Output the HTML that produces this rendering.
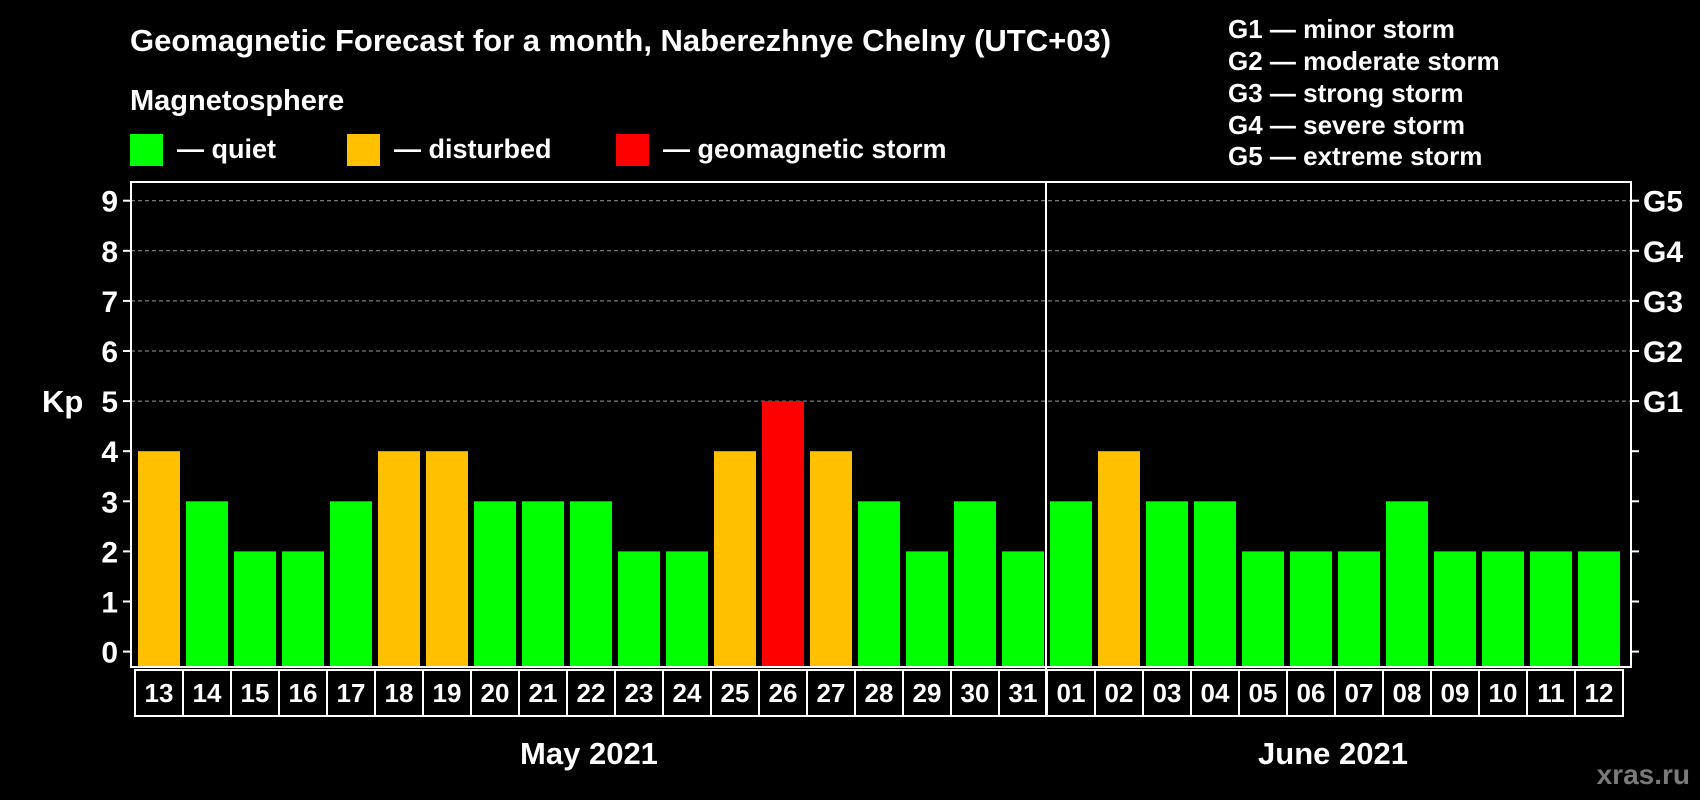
<!DOCTYPE html>
<html><head><meta charset="utf-8"><style>
html,body{margin:0;padding:0;background:#000;width:1700px;height:800px;overflow:hidden}
svg text{font-family:"Liberation Sans",Arial,sans-serif;font-weight:bold;fill:#fff}
</style></head><body>
<svg id="chart" width="1700" height="800" xmlns="http://www.w3.org/2000/svg">
<rect width="1700" height="800" fill="#000"/>
<text x="130" y="51" font-size="31">Geomagnetic Forecast for a month, Naberezhnye Chelny (UTC+03)</text>
<text x="130" y="110" font-size="29">Magnetosphere</text>
<g><rect x="130" y="134" width="33" height="32" fill="#00ff00"/><text x="177" y="158" font-size="27">— quiet</text></g>
<g><rect x="347" y="134" width="33" height="32" fill="#ffc000"/><text x="394" y="158" font-size="27">— disturbed</text></g>
<g><rect x="616" y="134" width="33" height="32" fill="#ff0000"/><text x="663" y="158" font-size="27">— geomagnetic storm</text></g>
<g font-size="26">
<text x="1228" y="38">G1 — minor storm</text>
<text x="1228" y="70">G2 — moderate storm</text>
<text x="1228" y="102">G3 — strong storm</text>
<text x="1228" y="134">G4 — severe storm</text>
<text x="1228" y="165">G5 — extreme storm</text>
</g>
<text x="42" y="412" font-size="31">Kp</text>
<g id="grid"></g><g id="bars"></g><g id="axes"></g>
<text x="589" y="764" font-size="31" text-anchor="middle">May 2021</text>
<text x="1333" y="764" font-size="31" text-anchor="middle">June 2021</text>
<text x="1690" y="784" font-size="28" text-anchor="end" style="fill:#7a7a7a">xras.ru</text>
</svg>
<script>
const days = ["13","14","15","16","17","18","19","20","21","22","23","24","25","26","27","28","29","30","31","01","02","03","04","05","06","07","08","09","10","11","12"];
const kp = [4,3,2,2,3,4,4,3,3,3,2,2,4,5,4,3,2,3,2,3,4,3,3,2,2,2,3,2,2,2,2];
const yTicks = [0,1,2,3,4,5,6,7,8,9];
const gLabels = ["","","","","","G1","G2","G3","G4","G5"];
const NS="http://www.w3.org/2000/svg";
const L=131,R=1631,T=182,B=667,Y0=651.6,UNIT=50.1,X0=135,STEP=48,BW=42;
const y=v=>Y0-v*UNIT, x=i=>X0+i*STEP;
function mk(t,a,p){const e=document.createElementNS(NS,t);for(const k in a)e.setAttribute(k,a[k]);p.appendChild(e);return e;}
const grid=document.getElementById('grid'),bars=document.getElementById('bars'),axes=document.getElementById('axes');
yTicks.forEach((v,i)=>{
  if(v>=5){const g=mk('line',{x1:L,x2:R,y1:y(v),y2:y(v),stroke:'#999','stroke-dasharray':'4,3','stroke-width':1},grid);
  
  }
  mk('line',{x1:L-8,x2:L,y1:y(v),y2:y(v),stroke:'#fff','stroke-width':2},axes);
  mk('line',{x1:R,x2:R+8,y1:y(v),y2:y(v),stroke:'#fff','stroke-width':2},axes);
  const t=mk('text',{x:118,y:y(v)+11,'font-size':30,'text-anchor':'end'},axes);t.textContent=v;
  
  
  if(gLabels[i]){const g=mk('text',{x:1643,y:y(v)+11,'font-size':30},axes);g.textContent=gLabels[i];
  
  }
});
kp.forEach((v,i)=>{
  const c=v>=5?'#ff0000':(v>=4?'#ffc000':'#00ff00');
  const r=mk('rect',{x:x(i)+3,y:y(v),width:BW,height:B-y(v)-1,fill:c},bars);
  
  
  mk('rect',{x:x(i),y:670,width:STEP,height:46,fill:'none',stroke:'#fff','stroke-width':2},axes);
  const t=mk('text',{x:x(i)+STEP/2,y:702,'font-size':26,'text-anchor':'middle'},axes);t.textContent=days[i];
  
  
});
const f=mk('rect',{x:L,y:T,width:R-L,height:B-T,fill:'none',stroke:'#fff','stroke-width':2},axes);


const dx=x(19)-1;
const d=mk('line',{x1:dx,x2:dx,y1:T,y2:716,stroke:'#fff','stroke-width':2},axes);


</script>
</body></html>
